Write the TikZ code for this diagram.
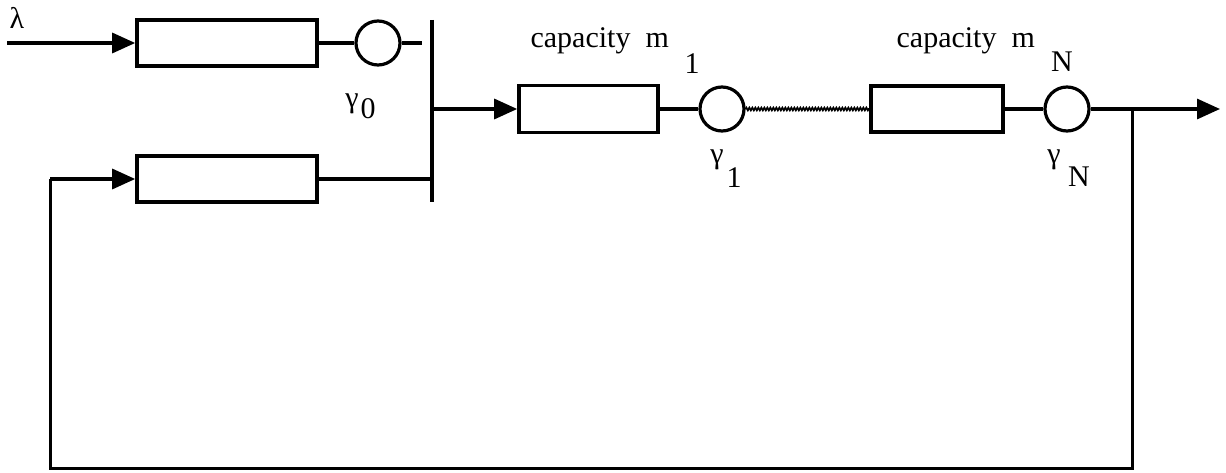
\documentclass[tikz,border=0pt]{standalone}
\usepackage{fontspec}
\setmainfont{Liberation Serif}
\usetikzlibrary{arrows.meta,decorations.pathmorphing}
\begin{document}
\begin{tikzpicture}[x=1pt,y=-1pt,
  line width=3.2pt,
  qbox/.style={draw, rectangle, inner sep=0pt, line width=3.6pt},
  srv/.style={draw, circle, inner sep=0pt, minimum size=44pt, line width=3.2pt},
  lbl/.style={inner sep=0pt, font=\fontsize{30}{33}\selectfont},
  tip/.style={-{Triangle[length=23pt,width=20pt]}},
  wavy/.style={decorate, decoration={zigzag, amplitude=1.3pt, segment length=3pt}, line width=1.8pt}
]
\useasboundingbox (0,0) rectangle (1226,473);
% queues
\node[qbox, minimum width=180pt, minimum height=46pt] (q0) at (227,43) {};
\node[qbox, minimum width=180pt, minimum height=46pt] (qf) at (227,179) {};
\node[qbox, minimum width=139pt, minimum height=47pt] (q1) at (588.5,109) {};
\node[qbox, minimum width=132pt, minimum height=46pt] (qN) at (937,109) {};
% servers
\node[srv] (s0) at (378,43) {};
\node[srv] (s1) at (722,109) {};
\node[srv] (sN) at (1067,109) {};
% coordinates
\coordinate (in) at (7,43);
\coordinate (s0end) at (422,43);
\coordinate (bartop) at (432,20);
\coordinate (barbot) at (432,202);
\coordinate (barmid) at (432,109);
\coordinate (barlow) at (432,179);
\coordinate (junc) at (1132,109);
\coordinate (out) at (1220,109);
\coordinate (fbl) at (50,179);
\coordinate (fbbl) at (50,468);
\coordinate (fbbr) at (1132,468);
% connectors
\draw[tip] (in) -- (q0.west);
\draw (q0.east) -- (s0.west);
\draw (s0.east) -- (s0end);
\draw[line width=3.2pt] (bartop) -- (barbot);
\draw (qf.east) -- (barlow);
\draw[tip] (barmid) -- (q1.west);
\draw (q1.east) -- (s1.west);
\draw[wavy] (s1.east) -- (qN.west);
\draw (qN.east) -- (sN.west);
\draw[tip] (sN.east) -- (out);
\draw[line width=3.0pt, line join=miter] (junc) -- (fbbr) -- (fbbl) -- (fbl);
\draw[tip] (fbl) -- (qf.west);
% labels
\node[lbl] (lam) at (17,18) {λ};
\node[lbl, anchor=base west] (cap1) at (529,48) {capacity\ \ m};
\node[lbl] (cap1s) at (692,64) {1};
\node[lbl, anchor=base west] (capN) at (895,48) {capacity\ \ m};
\node[lbl] (capNs) at (1062,62) {N};
\node[lbl] (g0) at (352,104) {γ};
\node[lbl] (g0s) at (368,109) {0};
\node[lbl] (g1) at (717,160) {γ};
\node[lbl] (g1s) at (734,178) {1};
\node[lbl] (gN) at (1054,160) {γ};
\node[lbl] (gNs) at (1079,177) {N};
\end{tikzpicture}
\end{document}
